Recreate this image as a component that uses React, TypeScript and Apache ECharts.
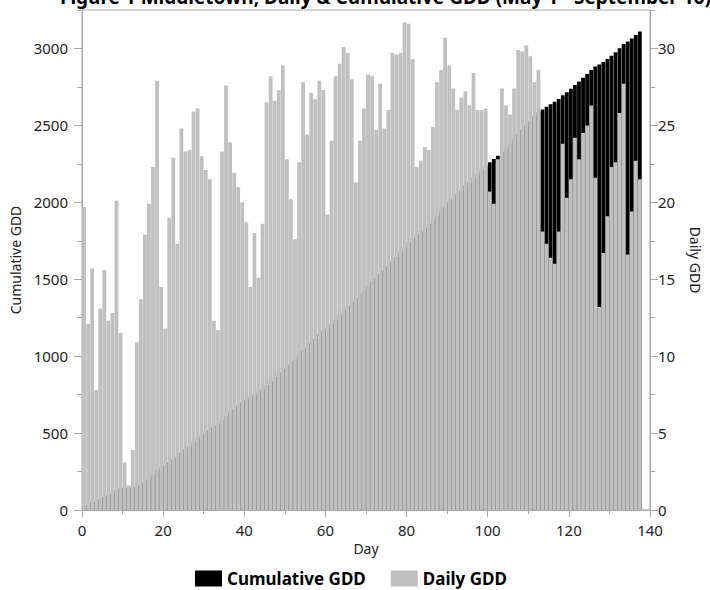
import React, { useEffect, useRef } from 'react';
import * as echarts from 'echarts';

const titleText = 'Figure 1 Middletown, Daily & Cumulative GDD (May 1 - September 16)';

const daily = [
  19.7, 12.1, 15.7, 7.8, 13.1, 15.6, 12.3, 12.8, 20.1, 11.5,
  3.1, 1.6, 3.9, 10.9, 13.7, 17.9, 19.9, 22.3, 27.9, 14.5,
  11.8, 19.0, 22.9, 17.3, 24.8, 23.3, 23.4, 25.9, 26.1, 23.0,
  22.1, 21.5, 12.3, 11.7, 23.3, 27.6, 23.9, 21.9, 21.0, 20.0,
  18.7, 14.5, 18.0, 15.1, 18.6, 26.5, 28.2, 26.6, 27.3, 28.9,
  22.8, 20.2, 17.6, 22.6, 27.8, 24.4, 27.1, 26.7, 27.9, 27.3,
  19.2, 24.0, 28.2, 29.0, 30.1, 29.7, 28.0, 21.3, 24.0, 26.1,
  28.3, 28.2, 24.7, 27.7, 24.8, 26.0, 29.7, 29.6, 29.7, 31.7,
  31.6, 29.3, 22.3, 22.7, 23.6, 23.4, 24.9, 27.8, 28.6, 30.7,
  28.9, 27.4, 26.0, 26.8, 27.2, 26.3, 28.4, 26.0, 26.0, 26.1,
  20.7, 19.9, 22.8, 27.4, 26.3, 25.7, 27.4, 29.9, 29.8, 30.2,
  29.5, 27.8, 28.6, 18.1, 17.3, 16.4, 16.0, 18.1, 23.8, 20.3,
  21.5, 24.2, 22.8, 24.5, 25.0, 26.3, 21.6, 13.2, 16.7, 19.1,
  22.3, 22.6, 25.8, 27.7, 16.6, 19.4, 22.7, 21.5,
];

const cumulative = [
  20, 32, 48, 55, 68, 84, 96, 109, 129, 141,
  144, 145, 149, 160, 174, 192, 212, 234, 262, 276,
  288, 307, 330, 347, 372, 396, 419, 445, 471, 494,
  516, 538, 550, 562, 585, 612, 636, 658, 679, 699,
  718, 732, 750, 766, 784, 811, 839, 865, 893, 922,
  944, 965, 982, 1005, 1033, 1057, 1084, 1111, 1139, 1166,
  1185, 1209, 1237, 1266, 1297, 1326, 1354, 1376, 1400, 1426,
  1454, 1482, 1507, 1535, 1559, 1585, 1615, 1645, 1674, 1706,
  1738, 1767, 1789, 1812, 1836, 1859, 1884, 1912, 1940, 1971,
  2000, 2027, 2053, 2080, 2107, 2134, 2162, 2188, 2214, 2240,
  2261, 2281, 2303, 2331, 2357, 2383, 2410, 2440, 2470, 2500,
  2530, 2557, 2586, 2604, 2621, 2638, 2654, 2672, 2696, 2716,
  2738, 2762, 2785, 2809, 2834, 2860, 2882, 2895, 2912, 2931,
  2953, 2976, 3002, 3029, 3046, 3065, 3088, 3110,
];

const days = daily.map((_, i) => i + 1);
const leftMajorTicks = [0, 500, 1000, 1500, 2000, 2500, 3000];
const rightMajorTicks = [0, 5, 10, 15, 20, 25, 30];

export default function App() {
  const ref = useRef<HTMLDivElement>(null);
  useEffect(() => {
    document.body.style.margin = '0';
    const chart = echarts.init(ref.current!, undefined, { renderer: 'svg' });
    const font = '"Noto Sans", "Open Sans", sans-serif';
    const axisColor = '#a8a8a8';
    const labelColor = '#222';
    const line = { lineStyle: { color: axisColor, width: 1 } };
    chart.setOption({
      animation: false,
      textStyle: { fontFamily: font },
      graphic: [
        {
          type: 'text',
          left: 60,
          top: -13,
          style: { text: titleText, font: `bold 19px ${font}`, fill: '#000' },
        },
      ],
      grid: { left: 82, right: 55, top: 10, bottom: 80, show: true, borderColor: axisColor, borderWidth: 1 },
      legend: {
        data: ['Cumulative GDD', 'Daily GDD'],
        left: 190,
        top: 565,
        icon: 'rect',
        itemWidth: 27,
        itemHeight: 16,
        itemGap: 25,
        textStyle: { fontFamily: font, fontWeight: 'bold', fontSize: 17, color: '#000' },
      },
      xAxis: {
        type: 'value',
        min: 0,
        max: 140,
        interval: 20,
        name: 'Day',
        nameLocation: 'middle',
        nameGap: 31,
        nameTextStyle: { fontSize: 14, color: labelColor, fontFamily: font },
        axisLine: { show: true, ...line },
        axisTick: { show: true, length: 7, ...line },
        minorTick: { show: true, splitNumber: 2, length: 4, ...line },
        splitLine: { show: false },
        axisLabel: { margin: 12, fontSize: 15, color: labelColor, fontFamily: font },
      },
      yAxis: [
        {
          type: 'value',
          position: 'left',
          min: 0,
          max: 3250,
          interval: 250,
          name: 'Cumulative GDD',
          nameLocation: 'middle',
          nameGap: 57,
          nameTextStyle: { fontSize: 14, color: labelColor, fontFamily: font },
          axisLine: { show: true, ...line },
          axisTick: { show: true, length: 5, ...line },
          splitLine: { show: false },
          axisLabel: {
            margin: 14,
            fontSize: 15,
            color: labelColor,
            fontFamily: font,
            formatter: (v: number) => (leftMajorTicks.includes(v) ? String(v) : ''),
          },
        },
        {
          type: 'value',
          position: 'right',
          min: 0,
          max: 32.5,
          interval: 2.5,
          name: 'Daily GDD',
          nameLocation: 'middle',
          nameGap: 38,
          nameRotate: -90,
          nameTextStyle: { fontSize: 14, color: labelColor, fontFamily: font },
          axisLine: { show: true, ...line },
          axisTick: { show: true, length: 5, ...line },
          splitLine: { show: false },
          axisLabel: {
            margin: 8,
            fontSize: 15,
            color: labelColor,
            fontFamily: font,
            formatter: (v: number) => (rightMajorTicks.includes(Math.round(v * 10) / 10) ? String(Math.round(v)) : ''),
          },
        },
        {
          type: 'value',
          position: 'left',
          min: 0,
          max: 3250,
          axisLine: { show: false },
          axisTick: { show: true, length: 8, customValues: leftMajorTicks, ...line },
          axisLabel: { show: false },
          splitLine: { show: false },
        },
        {
          type: 'value',
          position: 'right',
          min: 0,
          max: 32.5,
          axisLine: { show: false },
          axisTick: { show: true, length: 8, customValues: rightMajorTicks, ...line },
          axisLabel: { show: false },
          splitLine: { show: false },
        },
      ],
      series: [
        {
          name: 'Cumulative GDD',
          type: 'bar',
          yAxisIndex: 0,
          barWidth: 3.8,
          barGap: '-100%',
          itemStyle: { color: '#000000' },
          data: days.map((d, i) => [d - 0.5, cumulative[i]]),
        },
        {
          name: 'Daily GDD',
          type: 'bar',
          yAxisIndex: 1,
          barWidth: 3.8,
          barGap: '-100%',
          itemStyle: { color: '#c0c0c0' },
          data: days.map((d, i) => [d - 0.5, daily[i]]),
        },
      ],
    });
    return () => chart.dispose();
  }, []);
  return <div ref={ref} style={{ width: 710, height: 590 }} />;
}
